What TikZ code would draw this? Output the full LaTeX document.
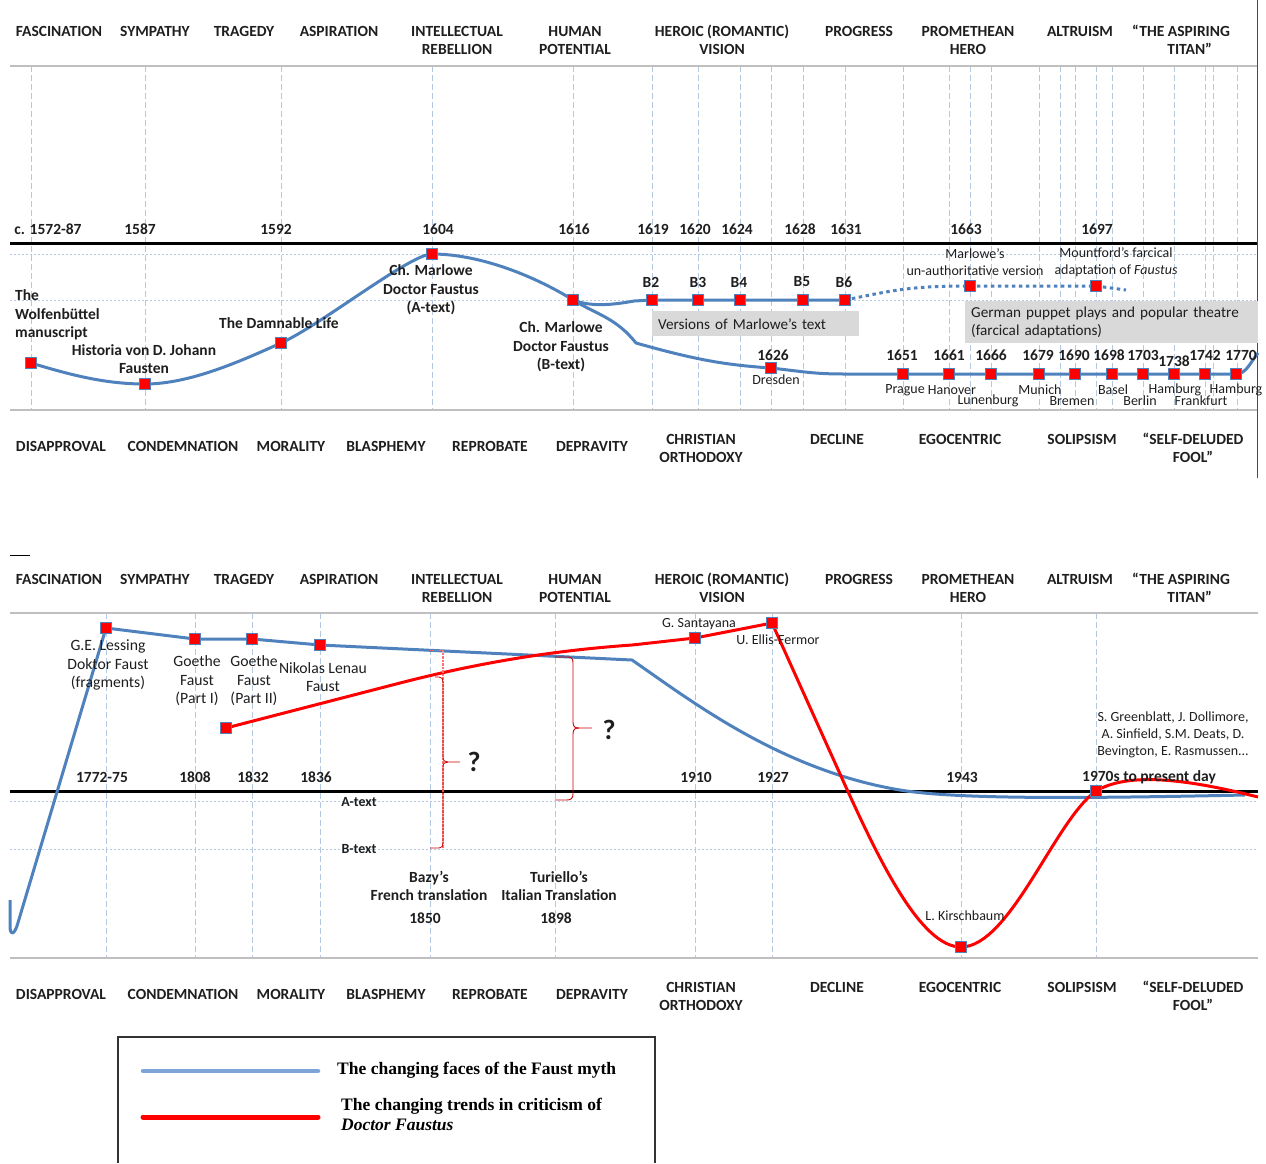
\documentclass[tikz,border=0pt]{standalone}
\usepackage{fontspec}
\setmainfont{Carlito}
\newfontfamily\legfont{Liberation Serif}
\definecolor{fblue}{HTML}{4F81BD}
\definecolor{gridc}{HTML}{B4C8E2}
\definecolor{sepc}{HTML}{BFBFBF}
\definecolor{boxc}{HTML}{D9D9D9}
\definecolor{legblue}{HTML}{7CA4D6}
\definecolor{txt}{HTML}{1E1E1E}
\newcommand{\headrow}[1]{%
 \node[hd] (#1a) at (59,31) {FASCINATION};
 \node[hd] (#1b) at (155,31) {SYMPATHY};
 \node[hd] (#1c) at (244,31) {TRAGEDY};
 \node[hd] (#1d) at (339,31) {ASPIRATION};
 \node[hd] (#1e) at (457,40) {INTELLECTUAL\\REBELLION};
 \node[hd] (#1f) at (575,40.5) {HUMAN\\POTENTIAL};
 \node[hd] (#1g) at (722,40) {HEROIC (ROMANTIC)\\VISION};
 \node[hd] (#1h) at (859,31) {PROGRESS};
 \node[hd] (#1i) at (968,40) {PROMETHEAN\\HERO};
 \node[hd] (#1j) at (1080,31) {ALTRUISM};
 \node[hd, align=right] (#1k) at (1181,40) {“THE ASPIRING\\TITAN”\hspace*{18pt}\mbox{}};
}
\newcommand{\footrow}[1]{%
 \node[hd] (#1a) at (61,446) {DISAPPROVAL};
 \node[hd] (#1b) at (183,446) {CONDEMNATION};
 \node[hd] (#1c) at (291,446) {MORALITY};
 \node[hd] (#1d) at (386,446) {BLASPHEMY};
 \node[hd] (#1e) at (490,446) {REPROBATE};
 \node[hd] (#1f) at (592,446) {DEPRAVITY};
 \node[hd] (#1g) at (701,448) {CHRISTIAN\\ORTHODOXY};
 \node[hd] (#1h) at (837,439) {DECLINE};
 \node[hd] (#1i) at (960,439) {EGOCENTRIC};
 \node[hd] (#1j) at (1082,439) {SOLIPSISM};
 \node[hd] (#1k) at (1193,448) {“SELF-DELUDED\\FOOL”};
}
\begin{document}
\begin{tikzpicture}[x=1pt,y=-1pt,
  hd/.style={font=\fontsize{15.5}{18}\selectfont\bfseries, align=center, inner sep=0pt, text=txt},
  yr/.style={font=\fontsize{15.5}{16}\selectfont\bfseries, inner sep=0pt, text=txt},
  lb/.style={font=\fontsize{15.5}{18.5}\selectfont\bfseries, align=center, inner sep=0pt, text=txt},
  nl/.style={font=\fontsize{15.7}{18.5}\selectfont, align=center, inner sep=0pt, text=txt},
  sm/.style={font=\fontsize{14}{17}\selectfont, align=center, inner sep=0pt, text=txt},
  st/.style={font=\fontsize{14}{16}\selectfont\bfseries, inner sep=0pt, text=txt},
  mk/.style={rectangle, fill=red, draw=fblue, line width=0.9pt, minimum size=10.5pt, inner sep=0pt},
  gv/.style={gridc, dash pattern=on 6pt off 3pt, line width=0.7pt},
  gh/.style={gridc, dash pattern=on 2pt off 2pt, line width=0.9pt},
  sep/.style={sepc, line width=1.6pt},
  axis/.style={black, line width=3pt},
  bl/.style={fblue, line width=3pt, line join=round},
  rd/.style={red, line width=3pt, line join=round},
  boxn/.style={fill=boxc, inner ysep=0pt, inner xsep=6pt, align=left, font=\fontsize{15.2}{18}\selectfont, text=txt},
  qm/.style={font=\fontsize{28}{30}\selectfont\bfseries, inner sep=0pt, text=txt}
]
\useasboundingbox (0,0) rectangle (1266,1163);

% ================= TOP PANEL =================
\foreach \x in {31,145,281,432,573,652,698,740,771,803,845,903,949,970,991,1039,1060,1075,1096,1112,1143,1174,1205,1213,1237}
  \draw[gv] (\x,66) -- (\x,410);
\draw[gh] (10,254) -- (1258,254);
\draw[gh] (10,300) -- (1258,300);
\draw[sep] (10,66) -- (1258,66);
\draw[sep] (10,410) -- (1258,410);
\draw[axis] (10,243) -- (1258,243);
\draw[black!70, line width=0.8pt] (1257,0) -- (1257,478);

\node[boxn, anchor=north west, text width=195pt, minimum height=25pt] (vbox) at (652,311) {Versions of Marlowe’s text};
\node[boxn, anchor=north west, text width=281pt, minimum height=42pt] (gbox) at (965,301) {German puppet plays and popular theatre\\(farcical adaptations)};

\coordinate (a1) at (31,363);
\coordinate (a2) at (145,384);
\coordinate (a3) at (281,343);
\coordinate (a4) at (432,254);
\coordinate (a5) at (573,300);
\coordinate (k1) at (634,301);
\coordinate (b2) at (652,300);
\coordinate (b3) at (698,300);
\coordinate (b4) at (740,300);
\coordinate (b5) at (803,300);
\coordinate (b6) at (845,300);
\coordinate (d1) at (970,286);
\coordinate (d2) at (1096,286);
\coordinate (dend) at (1126,290);
\coordinate (k2) at (636,343);
\coordinate (dr) at (771,368);
\coordinate (c0) at (845,374);
\coordinate (c1) at (903,374);
\coordinate (c2) at (949,374);
\coordinate (c3) at (991,374);
\coordinate (c4) at (1039,374);
\coordinate (c5) at (1075,374);
\coordinate (c6) at (1112,374);
\coordinate (c7) at (1143,374);
\coordinate (c8) at (1174,374);
\coordinate (c9) at (1205,374);
\coordinate (c10) at (1236,374);
\coordinate (cend) at (1258,353);

\draw[bl] (a1) .. controls +(40,12) and +(-40,0) .. (a2)
  .. controls +(45,0) and +(-40,18) .. (a3)
  .. controls +(40,-18) and +(-22,0) .. (a4)
  .. controls +(50,0) and +(-35,-22) .. (a5);
\draw[bl] (a5) .. controls +(18,7) and +(-22,4) .. (k1) -- (b2) -- (b3) -- (b4) -- (b5) -- (b6);
\draw[fblue, line width=3pt, dash pattern=on 3.5pt off 3.5pt] (b6) .. controls +(50,-10) and +(-60,0) .. (d1) -- (d2) -- (dend);
\draw[bl] (a5) .. controls +(25,15) and +(-20,-25) .. (k2)
  .. controls +(60,17) and +(-45,-3) .. (dr)
  .. controls +(35,4) and +(-30,0) .. (c0) -- (c1) -- (c2) -- (c3) -- (c4) -- (c5) -- (c6) -- (c7) -- (c8) -- (c9) -- (c10)
  .. controls +(10,0) and +(-8,10) .. (cend);

\foreach \p in {a1,a2,a3,a4,a5,b2,b3,b4,b5,b6,d1,d2,dr,c1,c2,c3,c4,c5,c6,c7,c8,c9,c10}
  \node[mk] (m\p) at (\p) {};

% top labels
\headrow{H}
\footrow{F}
\node[yr] (y1) at (48,229) {c. 1572-87};
\node[yr] (y2) at (140,229) {1587};
\node[yr] (y3) at (276,229) {1592};
\node[yr] (y4) at (438,229) {1604};
\node[yr] (y5) at (574,229) {1616};
\node[yr] (y6) at (653,229) {1619};
\node[yr] (y7) at (695,229) {1620};
\node[yr] (y8) at (737,229) {1624};
\node[yr] (y9) at (800,229) {1628};
\node[yr] (y10) at (846,229) {1631};
\node[yr] (y11) at (966,229) {1663};
\node[yr] (y12) at (1097,229) {1697};

\node[lb, align=left, anchor=west] (wolf) at (15,315) {The\\Wolfenbüttel\\manuscript};
\node[lb] (hist) at (144,359) {Historia von D. Johann\\Fausten};
\node[lb] (damn) at (279,323) {The Damnable Life};
\node[lb] (atext) at (431,290) {Ch. Marlowe\\Doctor Faustus\\(A-text)};
\node[lb] (btext) at (561,347) {Ch. Marlowe\\Doctor Faustus\\(B-text)};
\node[yr] (lb2) at (651,282) {B2};
\node[yr] (lb3) at (698,282) {B3};
\node[yr] (lb4) at (739,282) {B4};
\node[yr] (lb5) at (802,282) {B5};
\node[yr] (lb6) at (844,282) {B6};
\node[yr] (y1626) at (773,355) {1626};
\node[sm] (dres) at (776,380) {Dresden};
\node[sm] (marl) at (975,262) {Marlowe’s\\un-authoritative version};
\node[sm] (mount) at (1116,262) {Mountford’s farcical\\adaptation of \textit{Faustus}};

\node[yr] (z1) at (902,355) {1651};
\node[yr] (z2) at (949,355) {1661};
\node[yr] (z3) at (991,355) {1666};
\node[yr] (z4) at (1038,355) {1679};
\node[yr] (z5) at (1074,355) {1690};
\node[yr] (z6) at (1109,355) {1698};
\node[yr] (z7) at (1143,355) {1703};
\node[yr] (z8) at (1174,361) {1738};
\node[yr] (z9) at (1205,355) {1742};
\node[yr] (z10) at (1241,355) {1770};

\node[sm] (t1) at (905,390) {Prague};
\node[sm] (t2) at (952,390) {Hanover};
\node[sm] (t3) at (988,401) {Lunenburg};
\node[sm] (t4) at (1040,390) {Munich};
\node[sm] (t5) at (1072,401) {Bremen};
\node[sm] (t6) at (1113,390) {Basel};
\node[sm] (t7) at (1140,401) {Berlin};
\node[sm] (t8) at (1175,390) {Hamburg};
\node[sm] (t9) at (1201,401) {Frankfurt};
\node[sm] (t10) at (1236,390) {Hamburg};

% ================= BOTTOM PANEL =================
\draw[black, line width=0.8pt] (10,555) -- (30,555);
\foreach \x in {106,195,252,320,430,555,695,772,961,1096}
  \draw[gv] (\x,613) -- (\x,958);
\draw[gh] (10,801) -- (1258,801);
\draw[gh] (10,849) -- (1258,849);
\draw[sep] (10,613) -- (1258,613);
\draw[sep] (10,958) -- (1258,958);
\draw[axis] (10,791) -- (1258,791);

\begin{scope}[yshift=-548pt]
\headrow{J}
\footrow{G}
\end{scope}

\coordinate (e0) at (10,900);
\coordinate (e1) at (106,628);
\coordinate (e2) at (195,639);
\coordinate (e3) at (252,639);
\coordinate (e4) at (320,645);
\coordinate (ek) at (632,660);
\coordinate (ej) at (900,790);
\coordinate (eend) at (1245,795);
\coordinate (r1) at (226,728);
\coordinate (rk1) at (400,683);
\coordinate (rk2) at (632,645);
\coordinate (r2) at (695,638);
\coordinate (r3) at (772,623);
\coordinate (rk3) at (845,785);
\coordinate (r4) at (961,947);
\coordinate (r5) at (1096,791);
\coordinate (rend) at (1258,797);

\draw[bl] (e0) -- (10,928) .. controls (11,936) and (14,934) .. (17,926) -- (e1) -- (e2) -- (e3) -- (e4) -- (ek)
  .. controls (690,700) and (780,770) .. (ej) .. controls (960,800) and (1100,798) .. (eend);
\draw[rd] (r1) -- (rk1) .. controls (470,665) and (545,651) .. (rk2) -- (r2) -- (r3) -- (rk3)
  .. controls (880,862) and (921,947) .. (r4) .. controls (1010,947) and (1055,820) .. (r5)
  .. controls (1125,774) and (1175,776) .. (rend);

\foreach \p in {e1,e2,e3,e4,r1,r2,r3,r4,r5}
  \node[mk] (n\p) at (\p) {};

% braces
\draw[red!60, line width=0.7pt, densely dotted] (430,650) -- (443,650);
\draw[red!55, line width=2.6pt, dash pattern=on 0.7pt off 0.7pt] (443,650) -- (443,848);
\draw[red!80!black, line width=0.8pt] (430,848) -- (439,848) .. controls (442,848) and (443,846) .. (443,843) -- (443,767)
  .. controls (443,763) and (445,762) .. (448,762) -- (460,762);
\draw[red!80!black, line width=0.8pt] (448,762) .. controls (445,762) and (443,761) .. (443,757) -- (443,682)
  .. controls (443,679) and (442,677) .. (439,677) -- (435,677);
\draw[red!80!black, line width=0.9pt] (555,657) -- (568,657) .. controls (572,657) and (573,659) .. (573,663) -- (573,722)
  .. controls (573,727) and (575,728) .. (579,728) -- (592,728);
\draw[red!80!black, line width=0.9pt] (579,728) .. controls (575,728) and (573,729) .. (573,734) -- (573,794)
  .. controls (573,798) and (571,800) .. (567,800) -- (555,800);
\node[qm] (q1) at (474,762) {?};
\node[qm] (q2) at (609,730) {?};

% bottom labels
\node[yr] (w1) at (102,777) {1772-75};
\node[yr] (w2) at (195,777) {1808};
\node[yr] (w3) at (253,777) {1832};
\node[yr] (w4) at (316,777) {1836};
\node[yr] (w5) at (696,777) {1910};
\node[yr] (w6) at (773,777) {1927};
\node[yr] (w7) at (962,777) {1943};
\node[yr] (w8) at (1149,777) {1970s to present day};
\node[st] (atx) at (359,802) {A-text};
\node[st] (btx) at (359,849) {B-text};

\node[nl] (less) at (108,665) {G.E. Lessing\\Doktor Faust\\(fragments)};
\node[nl] (goe1) at (197,681) {Goethe\\Faust\\(Part I)};
\node[nl] (goe2) at (254,681) {Goethe\\Faust\\(Part II)};
\node[nl] (lenau) at (323,677) {Nikolas Lenau\\Faust};
\node[sm] (sant) at (699,624) {G. Santayana};
\node[sm] (ellis) at (778,640) {U. Ellis-Fermor};
\node[sm] (green) at (1173,735) {S. Greenblatt, J. Dollimore,\\A. Sinfield, S.M. Deats, D.\\Bevington, E. Rasmussen...};
\node[sm] (kirsch) at (965,916) {L. Kirschbaum};
\node[lb] (bazy) at (429,886) {Bazy’s\\French translation};
\node[yr] (b1850) at (425,918) {1850};
\node[lb] (turi) at (559,886) {Turiello’s\\Italian Translation};
\node[yr] (b1898) at (556,918) {1898};

% legend
\draw[black!80, line width=1.3pt] (118,1163) -- (118,1037) -- (655,1037) -- (655,1163);
\coordinate (l1a) at (143,1071);
\coordinate (l1b) at (318,1071);
\coordinate (l2a) at (143,1117);
\coordinate (l2b) at (318,1117);
\draw[legblue, line width=4.5pt, line cap=round] (l1a) -- (l1b);
\draw[red, line width=5pt, line cap=round] (l2a) -- (l2b);
\node[anchor=west, inner sep=0pt, font=\legfont\bfseries\fontsize{17.5}{20}\selectfont] (leg1) at (337,1070) {The changing faces of the Faust myth};
\node[anchor=west, inner sep=0pt, align=left, font=\legfont\bfseries\fontsize{17.5}{20}\selectfont] (leg2) at (341,1114) {The changing trends in criticism of\\\textit{Doctor Faustus}};
\end{tikzpicture}
\end{document}
